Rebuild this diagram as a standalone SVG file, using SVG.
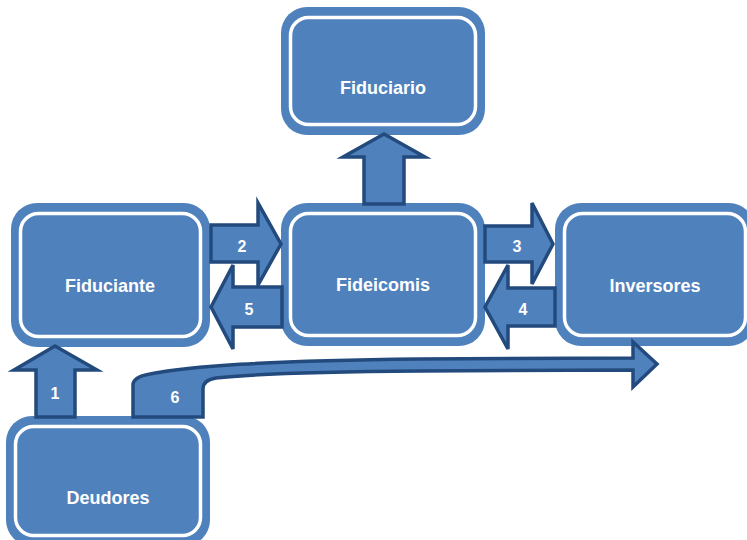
<svg xmlns="http://www.w3.org/2000/svg" width="747" height="540" viewBox="0 0 747 540">
<style>
.box{fill:#4F81BD}
.ring{fill:none;stroke:#FFFFFF;stroke-width:3.5}
.lbl{font-family:"Liberation Sans",Arial,sans-serif;font-weight:bold;font-size:18px;fill:#FFFFFF;text-anchor:middle}
.arr{fill:#4F81BD;stroke:#234A7D;stroke-width:3.5;stroke-linejoin:miter}
.num{font-family:"Liberation Sans",Arial,sans-serif;font-weight:bold;font-size:16px;fill:#FFFFFF;text-anchor:middle}
</style>
<rect width="747" height="540" fill="#FFFFFF"/>
<g id="fiduciario">
<rect class="box" x="281" y="7" width="204" height="128" rx="26"/>
<rect class="ring" x="290.5" y="17.5" width="185" height="107" rx="18"/>
<text class="lbl" x="383" y="94">Fiduciario</text>
</g>
<g id="fiduciante">
<rect class="box" x="11" y="203" width="199" height="144" rx="26"/>
<rect class="ring" x="20.5" y="213.5" width="180" height="123" rx="18"/>
<text class="lbl" x="110" y="292">Fiduciante</text>
</g>
<g id="fideicomis">
<rect class="box" x="281" y="203" width="204" height="143" rx="26"/>
<rect class="ring" x="290.5" y="213.5" width="185" height="122" rx="18"/>
<text class="lbl" x="383" y="291">Fideicomis</text>
</g>
<g id="inversores">
<rect class="box" x="555" y="203" width="200" height="143" rx="26"/>
<rect class="ring" x="564.5" y="213.5" width="181" height="122" rx="18"/>
<text class="lbl" x="655" y="292">Inversores</text>
</g>
<g id="deudores">
<rect class="box" x="6" y="416" width="204" height="130" rx="26"/>
<rect class="ring" x="15.5" y="426.5" width="185" height="109" rx="18"/>
<text class="lbl" x="108" y="504">Deudores</text>
</g>
<g id="connectors">
<path class="arr" d="M364 204 L364 157 L343 157 L384 134 L425 157 L404 157 L404 204 Z"/>
<path class="arr" d="M211 225 L258 225 L258 203 L281 244 L258 285 L258 262 L211 262 Z"/>
<text class="num" x="242" y="252">2</text>
<path class="arr" d="M282 287 L233 287 L233 265 L211 307 L233 349 L233 327 L282 327 Z"/>
<text class="num" x="249" y="315">5</text>
<path class="arr" d="M485 226 L532 226 L532 203 L553 244 L532 284 L532 262 L485 262 Z"/>
<text class="num" x="517" y="252">3</text>
<path class="arr" d="M555 288 L508 288 L508 265 L485 307 L508 349 L508 326 L555 326 Z"/>
<text class="num" x="523" y="315">4</text>
<path class="arr" d="M36 417 L36 370 L14 370 L55 346 L97 370 L75 370 L75 417 Z"/>
<text class="num" x="55" y="399">1</text>
<path class="arr" d="M133 417 L133 385 Q133 377 150 374 C190 366 260 361 420 359 L633 358 L633 342 L657 364 L633 387 L633 370 L420 371 C300 372 250 374 216 378 Q203 380 203 389 L203 417 Z"/>
<text class="num" x="175" y="403">6</text>
</g>
</svg>
